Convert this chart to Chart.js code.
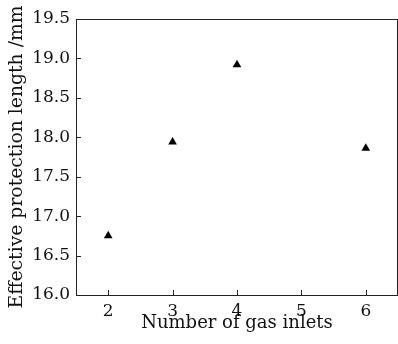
<!DOCTYPE html>
<html>
<head>
<meta charset="utf-8">
<script src="https://cdn.jsdelivr.net/npm/chart.js@4.4.1/dist/chart.umd.min.js"></script>
<style>
  html, body { margin: 0; padding: 0; background: #fff; }
  #wrap { width: 398px; height: 344px; }
</style>
</head>
<body>
<div id="wrap"><canvas id="gasChart" width="398" height="344"></canvas></div>
<script>
// gas inlet count vs effective protection length
const inlets = [2, 3, 4, 6];
const protectionLength = [16.75, 17.94, 18.92, 17.86];
const xTicks = [2, 3, 4, 5, 6];
const yTicks = [16.0, 16.5, 17.0, 17.5, 18.0, 18.5, 19.0, 19.5];

const serif = "'DejaVu Serif', serif";

// frame + inward tick marks
const framePlugin = {
  id: 'frame',
  afterDraw(chart) {
    const { ctx, chartArea: a, scales } = chart;
    ctx.save();
    ctx.strokeStyle = '#222';
    ctx.lineWidth = 1;
    ctx.strokeRect(a.left + 0.5, a.top + 0.5, a.right - a.left - 1, a.bottom - a.top);
    ctx.beginPath();
    xTicks.forEach(v => {
      const x = Math.round(scales.x.getPixelForValue(v)) + 0.5;
      ctx.moveTo(x, a.bottom);
      ctx.lineTo(x, a.bottom - 5);
    });
    yTicks.forEach(v => {
      const y = Math.round(scales.y.getPixelForValue(v)) + 0.5;
      ctx.moveTo(a.left, y);
      ctx.lineTo(a.left + 5, y);
    });
    ctx.stroke();
    ctx.restore();
  }
};

const ctx = document.getElementById('gasChart').getContext('2d');
new Chart(ctx, {
  type: 'scatter',
  data: {
    datasets: [{
      label: 'Effective protection length',
      data: inlets.map((n, i) => ({ x: n, y: protectionLength[i] })),
      pointStyle: 'triangle',
      pointRadius: 5,
      backgroundColor: '#000',
      borderColor: '#000',
      borderWidth: 0
    }]
  },
  options: {
    responsive: false,
    animation: false,
    layout: { autoPadding: false, padding: { top: 19, right: 0, left: 0, bottom: 0 } },
    plugins: { legend: { display: false }, tooltip: { enabled: false } },
    scales: {
      x: {
        type: 'linear',
        min: 1.5,
        max: 6.5,
        afterBuildTicks: s => { s.ticks = xTicks.map(v => ({ value: v })); },
        afterFit: s => { s.height = 49; },
        grid: { display: false, drawTicks: false },
        border: { display: false },
        ticks: {
          color: '#111',
          padding: 6,
          font: { family: serif, size: 17 },
          callback: v => String(v)
        },
        title: {
          display: true,
          text: 'Number of gas inlets',
          color: '#111',
          font: { family: serif, size: 18 },
          padding: { top: 0, bottom: 10 }
        }
      },
      y: {
        min: 16,
        max: 19.5,
        afterBuildTicks: s => { s.ticks = yTicks.map(v => ({ value: v })); },
        afterFit: s => { s.width = 76; },
        grid: { display: false, drawTicks: false },
        border: { display: false },
        ticks: {
          color: '#111',
          padding: 6,
          font: { family: serif, size: 17 },
          callback: v => v.toFixed(1)
        },
        title: {
          display: true,
          text: 'Effective protection length /mm',
          color: '#111',
          font: { family: serif, size: 18.8 },
          padding: { top: 6, bottom: 0 }
        }
      }
    }
  },
  plugins: [framePlugin]
});
</script>
</body>
</html>
